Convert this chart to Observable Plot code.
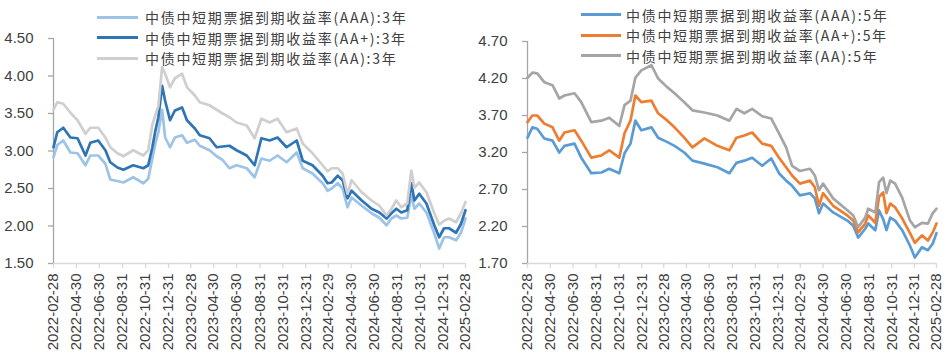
<!DOCTYPE html>
<html>
<head>
<meta charset="utf-8">
<script src="https://cdn.jsdelivr.net/npm/d3@7"></script>
<script src="https://cdn.jsdelivr.net/npm/@observablehq/plot@0.6"></script>
<style>
  html, body { margin: 0; padding: 0; background: #fff; }
  #wrap { display: flex; width: 948px; height: 355px; overflow: hidden; }
  .panel { position: relative; width: 474px; height: 355px; }
  .panel svg { display: block; }
  .legend { position: absolute; left: 0; top: 0; font-family: "Noto Sans CJK SC", sans-serif; font-size: 14px; letter-spacing: 1.7px; color: #404040; }
  .row { position: absolute; left: 0; white-space: nowrap; height: 20px; line-height: 20px; }
  .sw { position: absolute; top: 8.5px; height: 3px; display: block; }
  .lab { position: absolute; top: 0; display: block; height: 20px; line-height: 20px; overflow: visible; }
</style>
</head>
<body>
<div id="wrap"></div>
<script>
// ---------- data ----------
const tickLabels = ["2022-02-28","2022-04-30","2022-06-30","2022-08-31","2022-10-31","2022-12-31","2023-02-28","2023-04-30","2023-06-30","2023-08-31","2023-10-31","2023-12-31","2024-02-29","2024-04-30","2024-06-30","2024-08-31","2024-10-31","2024-12-31","2025-02-28"];

const names3 = ["中债中短期票据到期收益率(AAA):3年","中债中短期票据到期收益率(AA+):3年","中债中短期票据到期收益率(AA):3年"];
const names5 = ["中债中短期票据到期收益率(AAA):5年","中债中短期票据到期收益率(AA+):5年","中债中短期票据到期收益率(AA):5年"];

const dates3 = ["2022-02-28","2022-03-10","2022-03-26","2022-04-14","2022-05-03","2022-05-24","2022-06-06","2022-06-27","2022-07-16","2022-07-29",
  "2022-08-17","2022-09-02","2022-09-28","2022-10-25","2022-11-07","2022-11-18","2022-11-26","2022-12-04","2022-12-14","2022-12-22",
  "2023-01-04","2023-01-17","2023-02-05","2023-02-18","2023-03-11","2023-03-24","2023-04-19","2023-05-08","2023-05-24","2023-06-11",
  "2023-06-30","2023-07-27","2023-08-17","2023-09-04","2023-09-26","2023-10-17","2023-11-10","2023-12-07","2023-12-23","2024-01-18",
  "2024-02-14","2024-02-27","2024-03-09","2024-03-25","2024-04-07","2024-04-20","2024-05-01","2024-05-28","2024-06-23","2024-07-14",
  "2024-08-02","2024-08-15","2024-08-28","2024-09-10","2024-09-26","2024-10-07","2024-10-15","2024-10-28","2024-11-16","2024-12-07",
  "2024-12-20","2025-01-02","2025-01-15","2025-02-03","2025-02-16","2025-02-28"];

const aaa3 = [2.92,3.08,3.14,2.98,2.97,2.81,2.94,2.94,2.83,2.62, 2.60,2.58,2.65,2.57,2.63,2.90,3.10,3.25,3.55,3.18,
  3.05,3.18,3.21,3.11,3.15,3.07,3.01,2.93,2.88,2.77, 2.81,2.77,2.65,2.90,2.87,2.94,2.85,2.98,2.77,2.70,
  2.57,2.47,2.50,2.57,2.50,2.25,2.38,2.27,2.17,2.11, 2.01,2.10,2.14,2.10,2.11,2.41,2.23,2.30,2.18,1.90,
  1.70,1.85,1.85,1.81,1.91,2.10];
const aap3 = [3.05,3.25,3.31,3.18,3.17,2.94,3.11,3.14,3.01,2.85, 2.78,2.75,2.81,2.77,2.81,3.05,3.27,3.45,3.87,3.67,
  3.41,3.54,3.58,3.41,3.30,3.21,3.17,3.05,3.06,3.07, 3.01,2.94,2.81,3.17,3.14,3.18,3.05,3.14,2.87,2.81,
  2.67,2.57,2.58,2.67,2.61,2.37,2.47,2.34,2.23,2.18, 2.10,2.17,2.23,2.18,2.21,2.57,2.34,2.43,2.30,2.01,
  1.85,1.97,1.97,1.91,2.03,2.21];
const aa3 = [3.55,3.65,3.63,3.51,3.41,3.23,3.31,3.31,3.18,3.05, 2.97,2.93,3.01,2.94,3.01,3.35,3.48,3.60,4.12,4.03,
  3.85,3.97,4.03,3.85,3.74,3.65,3.61,3.55,3.50,3.45, 3.38,3.34,3.17,3.43,3.38,3.43,3.25,3.30,3.10,2.97,
  2.81,2.73,2.77,2.77,2.70,2.43,2.61,2.45,2.34,2.27, 2.14,2.23,2.34,2.25,2.30,2.74,2.51,2.58,2.45,2.17,
  2.02,2.07,2.10,2.05,2.17,2.32];

const dates5 = ["2022-02-28","2022-03-13","2022-03-26","2022-04-14","2022-05-06","2022-05-24","2022-06-07","2022-07-04","2022-07-22","2022-08-18",
  "2022-09-14","2022-10-05","2022-11-01","2022-11-15","2022-12-01","2022-12-14","2022-12-30","2023-01-26","2023-02-13","2023-03-10",
  "2023-03-29","2023-04-24","2023-05-16","2023-06-17","2023-07-22","2023-08-23","2023-09-11","2023-10-02","2023-10-23","2023-11-19",
  "2023-12-13","2024-01-03","2024-01-22","2024-02-07","2024-02-28","2024-03-26","2024-04-08","2024-04-19","2024-04-30","2024-05-27",
  "2024-07-04","2024-07-20","2024-08-02","2024-08-21","2024-08-29","2024-09-17","2024-09-27","2024-10-08","2024-10-17","2024-10-27",
  "2024-11-09","2024-11-28","2024-12-19","2025-01-01","2025-01-20","2025-02-05","2025-02-18","2025-02-28"];

const aaa5 = [3.40,3.54,3.52,3.39,3.36,3.20,3.29,3.32,3.13,2.92, 2.93,2.98,2.92,3.19,3.32,3.63,3.50,3.54,3.40,3.34,
  3.29,3.20,3.09,3.05,3.00,2.92,3.06,3.09,3.13,3.02, 3.12,2.92,2.82,2.75,2.62,2.65,2.58,2.38,2.51,2.39,
  2.28,2.21,2.05,2.17,2.24,2.15,2.42,2.30,2.15,2.32, 2.28,2.15,1.94,1.78,1.92,1.88,1.97,2.11];
const aap5 = [3.61,3.70,3.70,3.59,3.54,3.36,3.47,3.50,3.36,3.13, 3.16,3.23,3.13,3.46,3.63,3.97,3.88,3.90,3.73,3.63,
  3.54,3.40,3.27,3.39,3.29,3.23,3.40,3.43,3.47,3.32, 3.29,3.13,3.00,2.89,2.78,2.82,2.73,2.48,2.65,2.48,
  2.35,2.28,2.12,2.24,2.35,2.25,2.60,2.66,2.38,2.51, 2.46,2.31,2.11,1.98,2.08,2.01,2.12,2.24];
const aa5 = [4.21,4.28,4.27,4.15,4.11,3.93,3.97,4.00,3.88,3.61, 3.63,3.67,3.56,3.84,3.90,4.21,4.31,4.38,4.20,4.08,
  4.00,3.88,3.77,3.74,3.70,3.63,3.79,3.73,3.79,3.69, 3.66,3.46,3.27,3.02,2.95,2.98,2.89,2.69,2.78,2.58,
  2.42,2.35,2.19,2.32,2.44,2.39,2.80,2.86,2.65,2.82, 2.78,2.59,2.28,2.19,2.25,2.24,2.38,2.44];

const yTicks3 = [1.5, 2.0, 2.5, 3.0, 3.5, 4.0, 4.5];
const yTicks5 = [1.7, 2.2, 2.7, 3.2, 3.7, 4.2, 4.7];

const colors3 = ["#9DC3E6", "#2E75B6", "#D0CECE"];
const colors5 = ["#5B9BD5", "#ED7D31", "#A5A5A5"];

// ---------- drawing ----------
const parse = d3.utcParse("%Y-%m-%d");
const tickDates = tickLabels.map(parse);

function makePanel(cfg) {
  const div = document.createElement("div");
  div.className = "panel";
  const dates = cfg.dates.map(parse);
  const x0 = parse(tickLabels[0]), x1 = parse(tickLabels[tickLabels.length - 1]);
  const lines = cfg.series.map((vals, i) =>
    Plot.line(vals.map((v, j) => ({date: dates[j], value: v})), {
      x: "date", y: "value", stroke: cfg.colors[i], strokeWidth: 2.7,
      strokeLinejoin: "round", strokeLinecap: "round"
    })
  );
  const chart = Plot.plot({
    width: 474, height: 355,
    marginLeft: 53, marginRight: cfg.marginRight, marginTop: cfg.marginTop, marginBottom: 92,
    style: {fontFamily: "Liberation Sans, Arial, sans-serif", fontSize: "15px", color: "#404040", background: "white", overflow: "visible"},
    x: {type: "utc", domain: [x0, x1]},
    y: {domain: [cfg.yTicks[0], cfg.yTicks[cfg.yTicks.length - 1]]},
    marks: [
      Plot.ruleY([cfg.yTicks[0]], {stroke: "#D9D9D9", strokeWidth: 1.3}),
      Plot.axisX({ticks: tickDates, tickFormat: d3.utcFormat("%Y-%m-%d"), tickRotate: -90,
        tickSize: 5, tickPadding: 5, stroke: "#D9D9D9", strokeWidth: 1.3, label: null, fontSize: 15}),
      Plot.ruleX([x0], {stroke: "#A6A6A6", strokeWidth: 1.3}),
      Plot.axisY({ticks: cfg.yTicks, tickFormat: d => d.toFixed(2), tickSize: 5, tickPadding: 15,
        stroke: "#A6A6A6", strokeWidth: 1.3, label: null, fontSize: 15}),
      ...lines
    ]
  });
  div.appendChild(chart);

  const leg = document.createElement("div");
  leg.className = "legend";
  cfg.names.forEach((n, i) => {
    const row = document.createElement("div");
    row.className = "row";
    row.style.top = (cfg.legendTop + i * 20.6 - 10) + "px";
    const sw = document.createElement("span");
    sw.className = "sw";
    sw.style.left = cfg.swLeft + "px";
    sw.style.width = cfg.swWidth + "px";
    sw.style.background = cfg.colors[i];
    const lab = document.createElement("div");
    lab.className = "lab";
    lab.style.left = cfg.textLeft + "px";
    lab.textContent = n;
    row.appendChild(sw);
    row.appendChild(lab);
    leg.appendChild(row);
  });
  div.appendChild(leg);
  return div;
}

const wrap = document.getElementById("wrap");
wrap.appendChild(makePanel({
  dates: dates3, series: [aaa3, aap3, aa3], colors: colors3, names: names3,
  yTicks: yTicks3, marginRight: 9, marginTop: 38,
  legendTop: 17, swLeft: 97, swWidth: 41, textLeft: 145
}));
wrap.appendChild(makePanel({
  dates: dates5, series: [aaa5, aap5, aa5], colors: colors5, names: names5,
  yTicks: yTicks5, marginRight: 12, marginTop: 41,
  legendTop: 14.5, swLeft: 107, swWidth: 40, textLeft: 152
}));
</script>
</body>
</html>
